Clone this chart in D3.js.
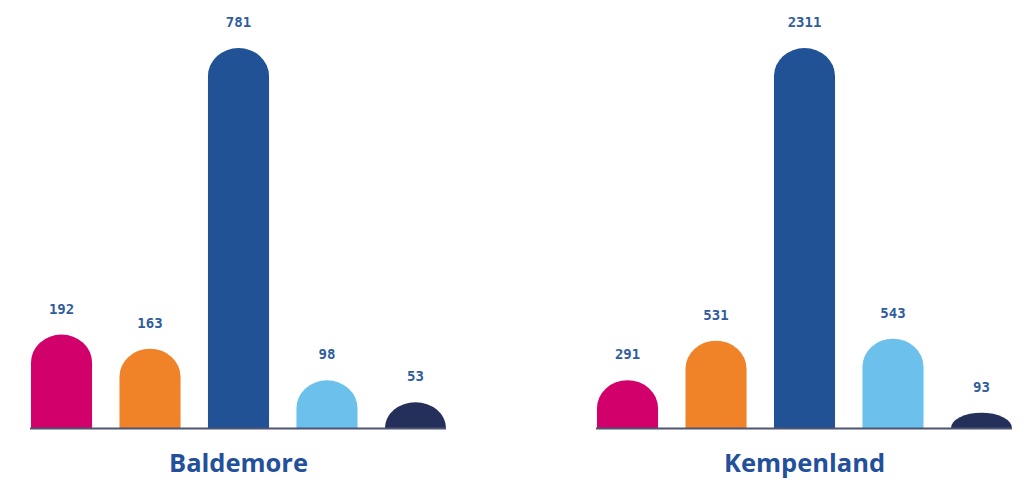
<!DOCTYPE html>
<html><head><meta charset="utf-8">
<script src="https://cdn.jsdelivr.net/npm/d3@7/dist/d3.min.js"></script>
<style>body{margin:0;background:#fff}svg{display:block}</style>
</head><body>
<svg id="c" width="1029" height="484"></svg>
<script>
const regions = ["Baldemore", "Kempenland"];
const seriesKeys = ["s1", "s2", "s3", "s4", "s5"];
const baldemoreValues = [192, 163, 781, 98, 53];
const kempenlandValues = [291, 531, 2311, 543, 93];
const colors = ["#d1006b", "#f08228", "#215295", "#6cc0ec", "#25305a"];

const panels = [
  {name: regions[0], values: baldemoreValues, x0: 31, x1: 446},
  {name: regions[1], values: kempenlandValues, x0: 597, x1: 1012}
];
const svg = d3.select("#c");
const baseY = 428, topY = 48;

panels.forEach(p => {
  const x = d3.scaleBand().domain(seriesKeys).range([p.x0, p.x1]).paddingInner(0.31).paddingOuter(0);
  const y = d3.scaleLinear().domain([0, d3.max(p.values)]).range([baseY, topY]);
  const g = svg.append("g");
  const data = p.values.map((v, i) => ({k: seriesKeys[i], v, c: colors[i]}));
  g.selectAll("path.bar").data(data).join("path")
    .attr("fill", d => d.c)
    .attr("d", d => {
      const x0 = x(d.k), w = x.bandwidth(), x1 = x0 + w;
      const h = baseY - y(d.v);
      const rx = w / 2, ry = Math.min(28, h);
      return `M${x0},${baseY}L${x0},${baseY - h + ry}A${rx},${ry} 0 0 1 ${x1},${baseY - h + ry}L${x1},${baseY}Z`;
    });
  g.append("line").attr("x1", p.x0 - 1).attr("x2", p.x1).attr("y1", baseY + 0.5).attr("y2", baseY + 0.5)
    .attr("stroke", "#4d5573").attr("stroke-width", 2);
  g.selectAll("text.val").data(data).join("text")
    .attr("x", d => x(d.k) + x.bandwidth() / 2)
    .attr("y", d => y(d.v) - 21)
    .attr("text-anchor", "middle")
    .attr("font-family", "DejaVu Sans Mono")
    .attr("font-weight", "bold")
    .attr("font-size", 14)
    .attr("fill", "#2f5c9c")
    .text(d => d.v);
  g.append("text")
    .attr("x", (p.x0 + p.x1) / 2)
    .attr("y", 472)
    .attr("text-anchor", "middle")
    .attr("font-family", "'Open Sans', sans-serif")
    .attr("font-weight", "bold")
    .attr("font-size", 25.5)
    .attr("fill", "#22509a")
    .text(p.name);
});
</script>
</body></html>
